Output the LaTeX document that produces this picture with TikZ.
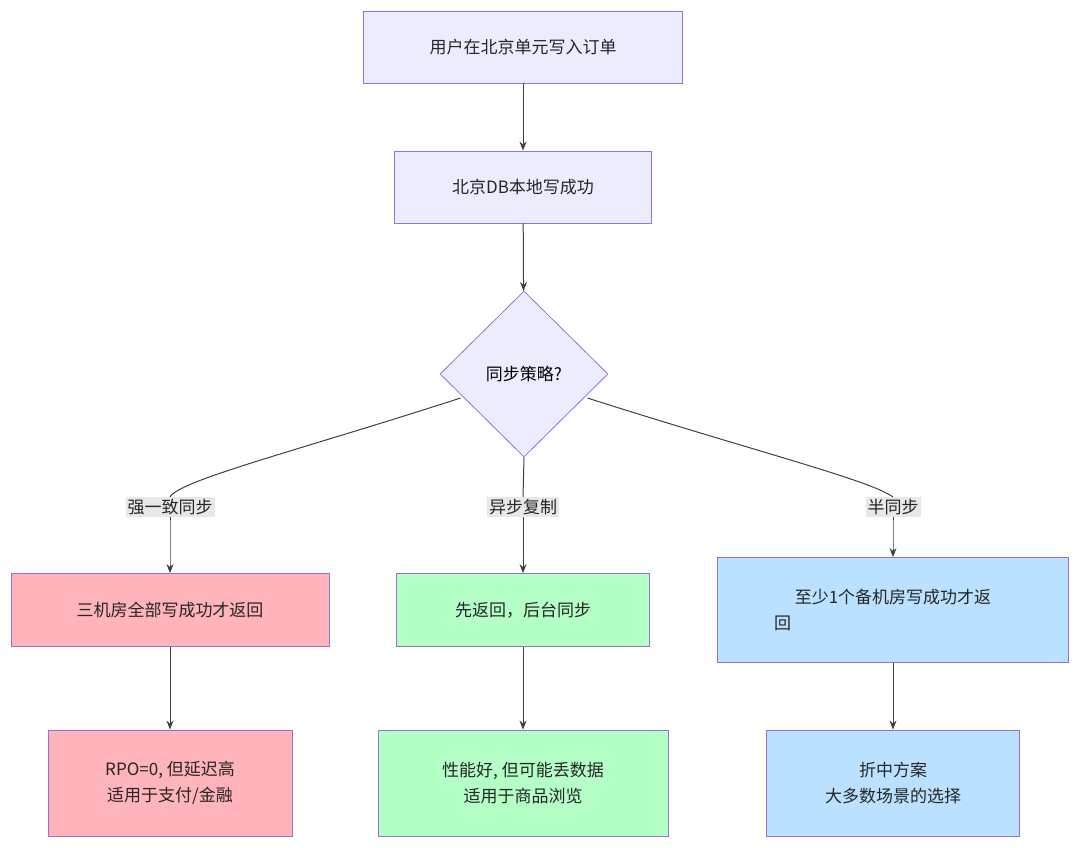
\documentclass[tikz,border=0pt]{standalone}
\usepackage{fontspec}
\setmainfont{Noto Sans CJK SC}
\usetikzlibrary{shapes.geometric,arrows.meta}
\definecolor{pbd}{HTML}{9370DB}
\definecolor{pfl}{HTML}{ECECFF}
\definecolor{rfl}{HTML}{FFB3BA}
\definecolor{gfl}{HTML}{B3FFC6}
\definecolor{bfl}{HTML}{BAE1FF}
\definecolor{lbl}{HTML}{E8E8E8}
\begin{document}
\begin{tikzpicture}[x=1pt,y=-1pt,
  box/.style={draw=pbd,line width=0.8pt,minimum height=#1,inner sep=0pt,align=center,font=\fontsize{17}{26}\selectfont,text=black!85},
  box/.default=72pt,
  lab/.style={fill=lbl,inner sep=2pt,font=\fontsize{17}{22}\selectfont,text=black!85},
  arr/.style={draw=black!75,line width=1pt,-{Stealth[length=9pt,width=7pt]}}]
\useasboundingbox (0,0) rectangle (1080,847);
\node[box,fill=pfl,minimum width=319pt] (n1) at (523,47) {用户在北京单元写入订单};
\node[box,fill=pfl,minimum width=257pt] (n2) at (523,187) {北京DB本地写成功};
\node[draw=pbd,fill=pfl,line width=0.8pt,diamond,minimum width=168pt,minimum height=166pt,inner sep=0pt,font=\fontsize{17}{22}\selectfont] (d) at (524,374) {同步策略?};
\node[box,fill=rfl,minimum width=318pt,minimum height=73pt] (l1) at (170,610) {三机房全部写成功才返回};
\node[box,fill=gfl,minimum width=253pt,minimum height=73pt] (m1) at (523,610) {先返回，后台同步};
\node[box,fill=bfl,minimum width=351pt,minimum height=105pt] (r1) at (893,610) {至少1个备机房写成功才返\\回\hspace*{13em}};
\node[box,fill=rfl,minimum width=244pt,minimum height=106pt] (l2) at (170,783) {RPO=0, 但延迟高\\适用于支付/金融};
\node[box,fill=gfl,minimum width=290pt,minimum height=106pt] (m2) at (523,783) {性能好, 但可能丢数据\\适用于商品浏览};
\node[box,fill=bfl,minimum width=253pt,minimum height=106pt] (r2) at (893,783) {折中方案\\大多数场景的选择};
\draw[arr] (n1) -- (n2);
\draw[arr] (n2) -- (d);
\node[lab] (la) at (170,507) {强一致同步};
\node[lab] (lm) at (523,507) {异步复制};
\node[lab] (lr) at (893,507) {半同步};
\draw[draw=black!75,line width=1pt] (d.west) ++(21,24) coordinate (dl) .. controls (300,450) and (180,480) .. (la.north);
\draw[arr] (la.south) .. controls (170,530) and (170,545) .. (l1.north);
\draw[draw=black!75,line width=1pt] (d.south) -- (lm.north);
\draw[arr] (lm.south) -- (m1.north);
\draw[draw=black!75,line width=1pt] (d.east) ++(-21,24) coordinate (dr) .. controls (750,450) and (870,480) .. (lr.north);
\draw[arr] (lr.south) .. controls (893,530) and (893,540) .. (r1.north);
\draw[arr] (l1) -- (l2);
\draw[arr] (m1) -- (m2);
\draw[arr] (r1) -- (r2);
\end{tikzpicture}
\end{document}
